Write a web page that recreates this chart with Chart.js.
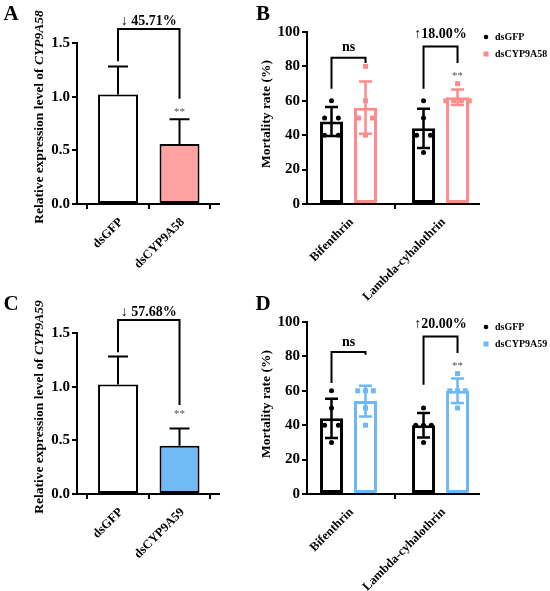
<!DOCTYPE html>
<html><head><meta charset="utf-8">
<script src="https://cdn.jsdelivr.net/npm/chart.js@4.4.1/dist/chart.umd.min.js"></script>
<style>
html,body{margin:0;padding:0;background:#fff;}
body{width:550px;height:591px;position:relative;overflow:hidden;}
.pane{position:absolute;}
canvas{display:block;}
</style></head><body>
<div class="pane" style="left:0;top:0;"><canvas id="cA" width="275" height="310"></canvas></div>
<div class="pane" style="left:250px;top:0;"><canvas id="cB" width="300" height="310"></canvas></div>
<div class="pane" style="left:0;top:290px;"><canvas id="cC" width="275" height="301"></canvas></div>
<div class="pane" style="left:250px;top:290px;"><canvas id="cD" width="300" height="301"></canvas></div>
<script>
// ---------- DATA ----------
const expCategoriesA = ['dsGFP', 'dsCYP9A58'];
const expMeanA = [1.02, 0.56];
const expSdA = [0.26, 0.23];
const expCategoriesC = ['dsGFP', 'dsCYP9A59'];
const expMeanC = [1.02, 0.45];
const expSdC = [0.26, 0.16];

const insecticides = ['Bifenthrin', 'Lambda-cyhalothrin'];
// Panel B
const gfpMeanB = [48, 44];
const gfpSdB = [8.4, 11.4];
const gfpPointsB = [[60, 50, 50, 40, 40], [60, 50, 40, 40, 30]];
const kd58MeanB = [56, 62];
const kd58SdB = [15.2, 4.5];
const kd58PointsB = [[80, 60, 50, 50, 40], [70, 60, 60, 60, 60]];
// Panel D
const gfpMeanD = [44, 40];
const gfpSdD = [11.4, 7.1];
const gfpPointsD = [[60, 50, 40, 40, 30], [50, 40, 40, 40, 30]];
const kd59MeanD = [54, 60];
const kd59SdD = [8.9, 7.1];
const kd59PointsD = [[60, 60, 60, 50, 40], [70, 60, 60, 60, 50]];

// annotations (values in data units)
const bracketsA = [{from:[0,0], to:[0,1], top:1.63, leftEnd:1.33, rightEnd:0.98, text:'\u2193 45.71%', textAt:1.70}];
const bracketsC = [{from:[0,0], to:[0,1], top:1.62, leftEnd:1.32, rightEnd:0.83, text:'\u2193 57.68%', textAt:1.69}];
const bracketsB = [
  {from:[0,0], to:[1,0], top:85, leftEnd:67, rightEnd:82, text:'ns', textAt:91},
  {from:[0,1], to:[1,1], top:91.5, leftEnd:67, rightEnd:82, text:'\u219118.00%', textAt:98.5}
];
const bracketsD = [
  {from:[0,0], to:[1,0], top:82.5, leftEnd:64.5, rightEnd:81, text:'ns', textAt:88},
  {from:[0,1], to:[1,1], top:91.5, leftEnd:63.5, rightEnd:82, text:'\u219120.00%', textAt:98.5}
];
const starsA = [{d:0, i:1, at:0.86}];
const starsC = [{d:0, i:1, at:0.74}];
const starsB = [{d:1, i:1, at:74.5}];
const starsD = [{d:1, i:1, at:74.5}];

// ---------- STYLE ----------
const FONT = "'Liberation Serif', 'Times New Roman', serif";
const PINK_FILL = '#FFA2A2';
const PINK_LINE = '#FF8B8B';
const BLUE_FILL = '#6FBAF7';
const BLUE_LINE = '#6DB8F5';
Chart.defaults.font.family = FONT;
Chart.defaults.color = '#000';
Chart.defaults.animation = false;

function axisLines() {
  return {
    grid: { display: true, drawOnChartArea: false, drawTicks: true, tickLength: 5, color: '#000', lineWidth: 2 },
    border: { display: true, color: '#000', width: 2 }
  };
}

function decor(cfg) {
  return {
    id: 'decor',
    afterDatasetDraw(chart, args) {
      const ds = chart.data.datasets[args.index];
      if (!ds.sd) return;
      const y = chart.scales.y, ctx = chart.ctx;
      ctx.save();
      ctx.strokeStyle = ds.errColor; ctx.lineWidth = cfg.errWidth;
      args.meta.data.forEach((bar, i) => {
        const m = ds.data[i].y, s = ds.sd[i];
        const yT = y.getPixelForValue(m + s);
        const yB = y.getPixelForValue(cfg.upperOnly ? m : m - s);
        ctx.beginPath();
        ctx.moveTo(bar.x, yB); ctx.lineTo(bar.x, yT);
        ctx.moveTo(bar.x - cfg.cap, yT); ctx.lineTo(bar.x + cfg.cap, yT);
        if (!cfg.upperOnly) { ctx.moveTo(bar.x - cfg.cap, yB); ctx.lineTo(bar.x + cfg.cap, yB); }
        ctx.stroke();
      });
      ctx.restore();
    },
    afterDraw(chart) {
      const ctx = chart.ctx, y = chart.scales.y;
      const px = (d, i) => chart.getDatasetMeta(d).data[i].x;
      ctx.save();
      // brackets
      cfg.brackets.forEach(b => {
        const x0 = px(b.from[0], b.from[1]), x1 = px(b.to[0], b.to[1]);
        const yt = y.getPixelForValue(b.top);
        ctx.strokeStyle = '#000'; ctx.lineWidth = 2; ctx.lineJoin = 'miter';
        ctx.beginPath();
        ctx.moveTo(x0, y.getPixelForValue(b.leftEnd)); ctx.lineTo(x0, yt);
        ctx.lineTo(x1, yt); ctx.lineTo(x1, y.getPixelForValue(b.rightEnd));
        ctx.stroke();
        ctx.fillStyle = '#000'; ctx.font = 'bold ' + cfg.bracketFont + 'px ' + FONT;
        ctx.textAlign = 'center'; ctx.textBaseline = 'middle';
        ctx.fillText(b.text, (x0 + x1) / 2, y.getPixelForValue(b.textAt));
      });
      // stars
      cfg.stars.forEach(s => {
        ctx.fillStyle = '#555'; ctx.font = '11px ' + FONT;
        ctx.textAlign = 'center'; ctx.textBaseline = 'middle';
        ctx.fillText('**', px(s.d, s.i), y.getPixelForValue(s.at));
      });
      // legend
      if (cfg.legend) {
        let k = 0;
        chart.data.datasets.forEach(ds => {
          if (!ds.sd) return;
          const ly = cfg.legend.y + k * cfg.legend.gap;
          ctx.fillStyle = ds.errColor;
          if (ds.marker === 'rect') ctx.fillRect(cfg.legend.x - 2.5, ly - 2.5, 5, 5);
          else { ctx.beginPath(); ctx.arc(cfg.legend.x, ly, 2.3, 0, Math.PI * 2); ctx.fill(); }
          ctx.fillStyle = '#000'; ctx.font = 'bold 10px ' + FONT;
          ctx.textAlign = 'left'; ctx.textBaseline = 'middle';
          ctx.fillText(ds.label, cfg.legend.x + 9, ly);
          k++;
        });
      }
      // y title
      ctx.save();
      ctx.translate(cfg.title.x, cfg.title.y); ctx.rotate(-Math.PI / 2);
      const fontOf = p => (p.italic ? 'italic ' : '') + 'bold ' + cfg.title.size + 'px ' + FONT;
      let total = 0;
      cfg.title.parts.forEach(p => { ctx.font = fontOf(p); p.w = ctx.measureText(p.t).width; total += p.w; });
      let xx = -total / 2;
      ctx.fillStyle = '#000'; ctx.textAlign = 'left'; ctx.textBaseline = 'middle';
      cfg.title.parts.forEach(p => { ctx.font = fontOf(p); ctx.fillText(p.t, xx, 0); xx += p.w; });
      ctx.restore();
      // panel letter
      ctx.fillStyle = '#000'; ctx.font = 'bold 21px ' + FONT;
      ctx.textAlign = 'center'; ctx.textBaseline = 'middle';
      ctx.fillText(cfg.letter.t, cfg.letter.x, cfg.letter.y);
      ctx.restore();
    }
  };
}

function xScale(cats, min, max, H, bottom) {
  return Object.assign({
    type: 'linear', min: min, max: max, offset: false,
    afterBuildTicks: s => { s.ticks = cats.map((_, i) => ({ value: i })); },
    afterFit: s => { s.height = H - bottom; },
    ticks: { callback: v => cats[v], autoSkip: false, minRotation: 45, maxRotation: 45, padding: 6, labelOffset: 3,
             color: '#000', font: { size: 12.5, weight: 'bold' } }
  }, axisLines());
}
function yScale(max, step, left, fmt) {
  return Object.assign({
    min: 0, max: max,
    afterFit: s => { s.width = left; },
    ticks: { stepSize: step, callback: fmt, padding: 2, color: '#000', font: { size: 15, weight: 'bold' } }
  }, axisLines());
}

function expressionChart(id, cats, mean, sd, fill, brackets, stars, gene, letter) {
  const W = 275, H = +document.getElementById(id).height;
  const area = { left: 77, right: 219, top: 43, bottom: 204 };
  new Chart(document.getElementById(id), {
    type: 'bar',
    data: { datasets: [{
      label: 'expression',
      data: cats.map((c, i) => ({ x: i, y: mean[i] })),
      sd: sd, errColor: '#000',
      backgroundColor: ['#ffffff', fill], borderColor: '#000', borderWidth: 2, borderSkipped: false,
      categoryPercentage: 0.65, barPercentage: 1
    }] },
    options: {
      responsive: false, animation: false,
      layout: { padding: { top: area.top, right: W - area.right, left: 0, bottom: 0 } },
      plugins: { legend: { display: false }, tooltip: { enabled: false } },
      scales: {
        x: xScale(cats, -0.667, 1.642, H, area.bottom),
        y: yScale(1.5, 0.5, area.left, v => v.toFixed(1))
      }
    },
    plugins: [decor({
      upperOnly: true, cap: 10, errWidth: 2, bracketFont: 14,
      brackets: brackets, stars: stars, legend: null,
      title: { x: 40, y: 117, size: 13.5, parts: [{ t: 'Relative expression level of ' }, { t: gene, italic: true }] },
      letter: { t: letter, x: 11, y: 15 }
    })]
  });
}

const CAT_PCT = 0.739, BAR_PCT = 0.676;
function jitter(groups, d) {
  const out = [];
  groups.forEach((vals, i) => {
    const center = i + (d - 0.5) * CAT_PCT / 2;
    const counts = {}, seen = {};
    vals.forEach(v => { counts[v] = (counts[v] || 0) + 1; });
    vals.forEach(v => {
      const n = counts[v];
      seen[v] = seen[v] === undefined ? 0 : seen[v] + 1;
      const step = n === 2 ? 0.15 : 0.085;
      out.push({ x: center + (seen[v] - (n - 1) / 2) * step, y: v });
    });
  });
  return out;
}

function mortalityChart(id, gMean, gSd, gPts, kLabel, kMean, kSd, kPts, color, brackets, stars, letter) {
  const W = 300, H = +document.getElementById(id).height;
  const area = { left: 57, right: 229, top: 32, bottom: 204 };
  const barDs = (label, mean, sd, col, marker) => ({
    type: 'bar', label: label, order: 2,
    data: insecticides.map((c, i) => ({ x: i, y: mean[i] })),
    sd: sd, errColor: col, marker: marker,
    backgroundColor: '#ffffff', borderColor: col, borderWidth: 3, borderSkipped: false,
    categoryPercentage: CAT_PCT, barPercentage: BAR_PCT
  });
  new Chart(document.getElementById(id), {
    type: 'bar',
    data: { datasets: [
      barDs('dsGFP', gMean, gSd, '#000', 'circle'),
      barDs(kLabel, kMean, kSd, color, 'rect'),
      { type: 'scatter', order: 0, data: jitter(gPts, 0), pointStyle: 'circle', pointRadius: 2.5,
        backgroundColor: '#000', borderWidth: 0 },
      { type: 'scatter', order: 0, data: jitter(kPts, 1), pointStyle: 'rect', pointRadius: 3.5,
        backgroundColor: color, borderWidth: 0 }
    ] },
    options: {
      responsive: false, animation: false,
      layout: { padding: { top: area.top, right: W - area.right, left: 0, bottom: 0 } },
      plugins: { legend: { display: false }, tooltip: { enabled: false } },
      scales: {
        x: xScale(insecticides, -0.451, 1.418, H, area.bottom),
        y: yScale(100, 20, area.left, v => String(v))
      }
    },
    plugins: [decor({
      upperOnly: false, cap: 6.5, errWidth: 2.5, bracketFont: 14,
      brackets: brackets, stars: stars, legend: { x: 236, y: 37, gap: 17 },
      title: { x: 17, y: 114, size: 13.5, parts: [{ t: 'Mortality rate (%)' }] },
      letter: { t: letter, x: 13, y: 15 }
    })]
  });
}

expressionChart('cA', expCategoriesA, expMeanA, expSdA, PINK_FILL, bracketsA, starsA, 'CYP9A58', 'A');
mortalityChart('cB', gfpMeanB, gfpSdB, gfpPointsB, 'dsCYP9A58', kd58MeanB, kd58SdB, kd58PointsB, PINK_LINE, bracketsB, starsB, 'B');
expressionChart('cC', expCategoriesC, expMeanC, expSdC, BLUE_FILL, bracketsC, starsC, 'CYP9A59', 'C');
mortalityChart('cD', gfpMeanD, gfpSdD, gfpPointsD, 'dsCYP9A59', kd59MeanD, kd59SdD, kd59PointsD, BLUE_LINE, bracketsD, starsD, 'D');
</script>
</body></html>
